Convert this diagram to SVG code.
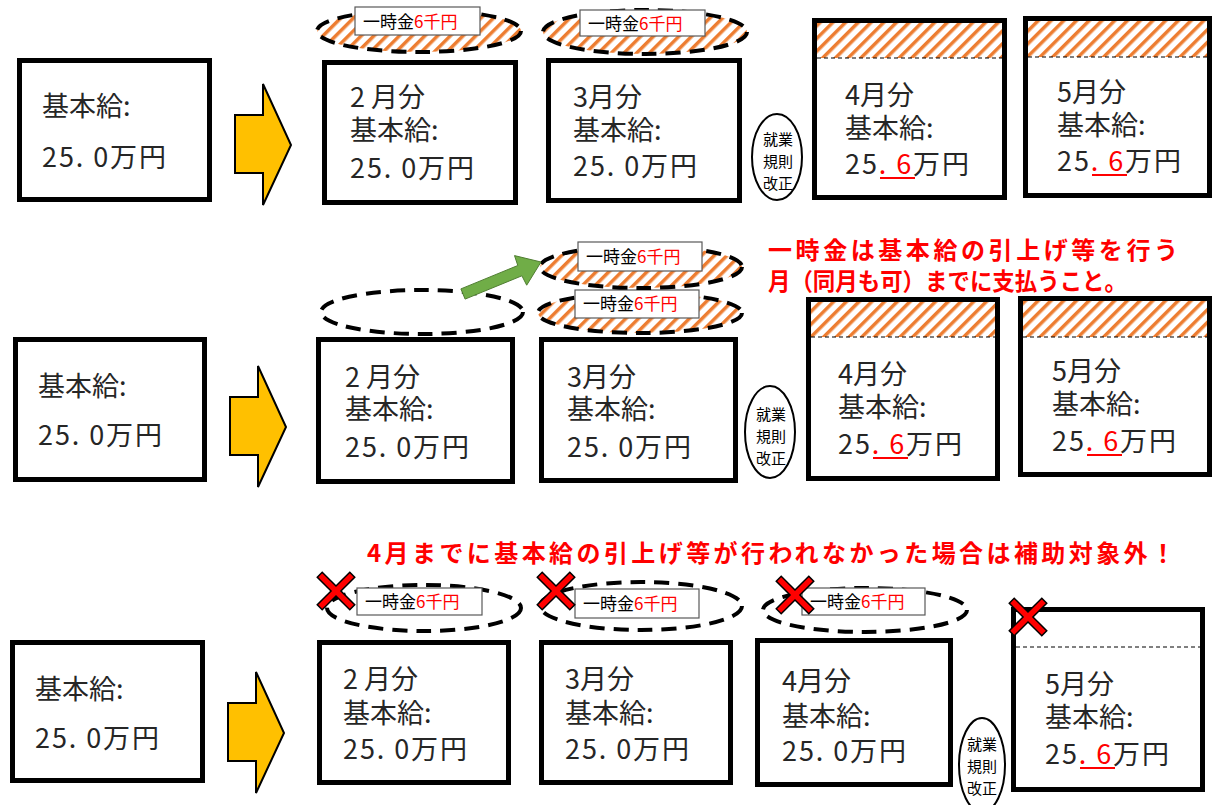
<svg xmlns="http://www.w3.org/2000/svg" width="1214" height="805" viewBox="0 0 1214 805">
<style>
.box{fill:#fff;stroke:#000;stroke-width:5}
.t{font-family:"Noto Sans CJK JP","Noto Sans",sans-serif;font-size:27px;fill:#262626}
.lbl{fill:#fff;stroke:#595959;stroke-width:1.2}
.lt{font-family:"Noto Sans CJK JP","Noto Sans",sans-serif;font-size:17px;fill:#000}
.red{fill:#FF0000}
.ell{stroke:#000;stroke-width:4;stroke-dasharray:15 9}
.hatch{fill:url(#hatch)}
.none{fill:none}
.oval{fill:#fff;stroke:#000;stroke-width:2}
.ot{font-family:"Noto Sans CJK JP","Noto Sans",sans-serif;font-size:15px;fill:#000;text-anchor:middle}
.dl{stroke:#000;stroke-width:1;stroke-dasharray:4 3}
.rt{font-family:"Noto Sans CJK JP","Noto Sans",sans-serif;font-size:24px;font-weight:700;fill:#FF0000}
.ya{fill:#FFC000;stroke:#000;stroke-width:2}
.ga{fill:#70AD47;stroke:#507E32;stroke-width:1}
.ul{stroke:#FF0000;stroke-width:2}
</style>
<defs>
<pattern id="hatch" patternUnits="userSpaceOnUse" width="9" height="9" patternTransform="rotate(45)">
<rect width="9" height="9" fill="#fff"/><rect width="3.5" height="9" fill="#ED7D31"/>
</pattern>
<path id="xm" d="M-3.5,-23H3.5V-3.5H23V3.5H3.5V23H-3.5V3.5H-23V-3.5H-3.5Z" transform="rotate(45)" fill="#FF0000" stroke="#000" stroke-width="1.5"/>
</defs>

<g id="connectors">
<path class="ya" d="M235,115H263V84L291,145L263,205V173H235Z"/>
<path class="ya" d="M235,115H263V84L291,145L263,205V173H235Z" transform="translate(-5,282)"/>
<path class="ya" d="M235,115H263V84L291,145L263,205V173H235Z" transform="translate(-7,588)"/>
</g>

<!-- Row 1 -->
<g id="r1-base"><rect class="box" x="19.5" y="60.5" width="190" height="139"/>
<text class="t" x="42" y="116">基本給:</text>
<text class="t" x="42" y="167" textLength="124" lengthAdjust="spacing">25. 0万円</text></g>

<g id="r1-bonus2"><ellipse class="ell hatch" cx="419" cy="31" rx="102" ry="21"/>
<rect class="lbl" x="355" y="7" width="125" height="28"/>
<text class="lt" x="363" y="28">一時金<tspan class="red">6千円</tspan></text></g>
<g id="r1-feb"><rect class="box" x="324.5" y="62.5" width="191" height="140"/>
<text class="t" x="350" y="107">2 月分</text>
<text class="t" x="350" y="140">基本給:</text>
<text class="t" x="350" y="178" textLength="124" lengthAdjust="spacing">25. 0万円</text></g>

<g id="r1-bonus3"><ellipse class="ell hatch" cx="645" cy="32" rx="102" ry="22"/>
<rect class="lbl" x="580" y="10" width="125" height="26"/>
<text class="lt" x="588" y="30">一時金<tspan class="red">6千円</tspan></text></g>
<g id="r1-mar"><rect class="box" x="548.5" y="60.5" width="191" height="140"/>
<text class="t" x="573" y="107">3月分</text>
<text class="t" x="573" y="140">基本給:</text>
<text class="t" x="573" y="176" textLength="124" lengthAdjust="spacing">25. 0万円</text></g>

<g id="r1-rule"><ellipse class="oval" cx="777" cy="157" rx="25" ry="43"/>
<text class="ot" x="778" y="145">就業</text><text class="ot" x="778" y="167">規則</text><text class="ot" x="778" y="189">改正</text></g>

<g id="r1-apr"><rect class="box" x="814.5" y="20.5" width="190" height="177"/>
<rect class="hatch" x="817" y="23" width="185" height="35"/>
<line class="dl" x1="817" y1="58" x2="1002" y2="58"/>
<text class="t" x="845" y="105">4月分</text>
<text class="t" x="845" y="138">基本給:</text>
<text class="t" x="845" y="174" textLength="124" lengthAdjust="spacing">25<tspan class="red">. 6</tspan>万円</text>
<line class="ul" x1="880" y1="178" x2="915" y2="178"/></g>

<g id="r1-may"><rect class="box" x="1025.5" y="18.5" width="184" height="177"/>
<rect class="hatch" x="1028" y="21" width="179" height="36"/>
<line class="dl" x1="1028" y1="57" x2="1207" y2="57"/>
<text class="t" x="1057" y="102">5月分</text>
<text class="t" x="1057" y="135">基本給:</text>
<text class="t" x="1057" y="171" textLength="124" lengthAdjust="spacing">25<tspan class="red">. 6</tspan>万円</text>
<line class="ul" x1="1092" y1="175" x2="1127" y2="175"/></g>

<!-- Row 2 -->
<g id="r2-note"><text class="rt" x="768" y="259" textLength="410" lengthAdjust="spacing">一時金は基本給の引上げ等を行う</text>
<text class="rt" x="768" y="290" textLength="359" lengthAdjust="spacingAndGlyphs">月（同月も可）までに支払うこと。</text></g>

<g id="r2-base"><rect class="box" x="15.5" y="339.5" width="189" height="140"/>
<text class="t" x="38" y="396">基本給:</text>
<text class="t" x="38" y="445" textLength="124" lengthAdjust="spacing">25. 0万円</text></g>

<g id="r2-bonus2"><ellipse class="ell none" cx="422" cy="312" rx="101" ry="22"/></g>
<g id="r2-feb"><rect class="box" x="318.5" y="339.5" width="194" height="142"/>
<text class="t" x="345" y="387">2 月分</text>
<text class="t" x="345" y="419">基本給:</text>
<text class="t" x="345" y="457" textLength="124" lengthAdjust="spacing">25. 0万円</text></g>

<g id="r2-bonus3"><ellipse class="ell hatch" cx="640" cy="313" rx="102" ry="20"/>
<rect class="lbl" x="575" y="290" width="124" height="28"/>
<text class="lt" x="583" y="310">一時金<tspan class="red">6千円</tspan></text></g>
<g id="r2-bonusmoved"><ellipse class="ell hatch" cx="641" cy="267" rx="101" ry="21"/>
<rect class="lbl" x="578" y="242" width="124" height="29"/>
<text class="lt" x="586" y="263">一時金<tspan class="red">6千円</tspan></text></g>
<g id="r2-mar"><rect class="box" x="541.5" y="339.5" width="194" height="141"/>
<text class="t" x="567" y="387">3月分</text>
<text class="t" x="567" y="419">基本給:</text>
<text class="t" x="567" y="457" textLength="124" lengthAdjust="spacing">25. 0万円</text></g>

<g id="r2-rule"><ellipse class="oval" cx="770" cy="432" rx="25" ry="46"/>
<text class="ot" x="771" y="420">就業</text><text class="ot" x="771" y="442">規則</text><text class="ot" x="771" y="464">改正</text></g>

<g id="r2-apr"><rect class="box" x="808.5" y="299.5" width="189" height="179"/>
<rect class="hatch" x="811" y="302" width="184" height="35"/>
<line class="dl" x1="811" y1="337" x2="995" y2="337"/>
<text class="t" x="838" y="384">4月分</text>
<text class="t" x="838" y="417">基本給:</text>
<text class="t" x="838" y="454" textLength="124" lengthAdjust="spacing">25<tspan class="red">. 6</tspan>万円</text>
<line class="ul" x1="873" y1="458" x2="908" y2="458"/></g>

<g id="r2-may"><rect class="box" x="1020.5" y="298.5" width="189" height="176"/>
<rect class="hatch" x="1023" y="301" width="184" height="36"/>
<line class="dl" x1="1023" y1="337" x2="1207" y2="337"/>
<text class="t" x="1052" y="381">5月分</text>
<text class="t" x="1052" y="414">基本給:</text>
<text class="t" x="1052" y="451" textLength="124" lengthAdjust="spacing">25<tspan class="red">. 6</tspan>万円</text>
<line class="ul" x1="1087" y1="455" x2="1122" y2="455"/></g>

<g id="connector-move">
<path class="ga" d="M465.1,299.1L521.9,275.8L526.7,285.2L541,262L514.5,255.6L517.8,265.5L460.9,288.9Z"/>
</g>

<!-- Row 3 -->
<g id="r3-note"><text class="rt" x="367" y="562" textLength="808" lengthAdjust="spacing">4月までに基本給の引上げ等が行われなかった場合は補助対象外！</text></g>

<g id="r3-base"><rect class="box" x="12.5" y="642.5" width="190" height="138"/>
<text class="t" x="35" y="699">基本給:</text>
<text class="t" x="35" y="748" textLength="124" lengthAdjust="spacing">25. 0万円</text></g>

<g id="r3-bonus2"><ellipse class="ell none" cx="424" cy="608" rx="97" ry="23"/>
<rect class="lbl" x="357" y="588" width="125" height="27"/>
<text class="lt" x="365" y="608">一時金<tspan class="red">6千円</tspan></text>
<use href="#xm" x="336" y="591"/></g>
<g id="r3-feb"><rect class="box" x="319.5" y="642.5" width="189" height="140"/>
<text class="t" x="343" y="689">2 月分</text>
<text class="t" x="343" y="723">基本給:</text>
<text class="t" x="343" y="759" textLength="124" lengthAdjust="spacing">25. 0万円</text></g>

<g id="r3-bonus3"><ellipse class="ell none" cx="641" cy="606" rx="101" ry="24"/>
<rect class="lbl" x="575" y="589" width="124" height="29"/>
<text class="lt" x="583" y="610">一時金<tspan class="red">6千円</tspan></text>
<use href="#xm" x="556" y="591"/></g>
<g id="r3-mar"><rect class="box" x="541.5" y="642.5" width="189" height="140"/>
<text class="t" x="565" y="689">3月分</text>
<text class="t" x="565" y="723">基本給:</text>
<text class="t" x="565" y="759" textLength="124" lengthAdjust="spacing">25. 0万円</text></g>

<g id="r3-bonus4"><ellipse class="ell none" cx="865" cy="610" rx="102" ry="22"/>
<rect class="lbl" x="802" y="588" width="123" height="27"/>
<text class="lt" x="810" y="608">一時金<tspan class="red">6千円</tspan></text>
<use href="#xm" x="795" y="595"/></g>
<g id="r3-apr"><rect class="box" x="757.5" y="640.5" width="193" height="144"/>
<text class="t" x="782" y="691">4月分</text>
<text class="t" x="782" y="726">基本給:</text>
<text class="t" x="782" y="761" textLength="124" lengthAdjust="spacing">25. 0万円</text></g>

<g id="r3-rule"><ellipse class="oval" cx="982" cy="765" rx="23" ry="47"/>
<text class="ot" x="982" y="750">就業</text><text class="ot" x="982" y="772">規則</text><text class="ot" x="982" y="794">改正</text></g>

<g id="r3-may"><rect class="box" x="1013.5" y="609.5" width="189" height="180"/>
<line class="dl" x1="1016" y1="647" x2="1200" y2="647"/>
<text class="t" x="1045" y="694">5月分</text>
<text class="t" x="1045" y="727">基本給:</text>
<text class="t" x="1045" y="764" textLength="124" lengthAdjust="spacing">25<tspan class="red">. 6</tspan>万円</text>
<line class="ul" x1="1080" y1="768" x2="1115" y2="768"/>
<use href="#xm" x="1028" y="617"/></g>
</svg>
